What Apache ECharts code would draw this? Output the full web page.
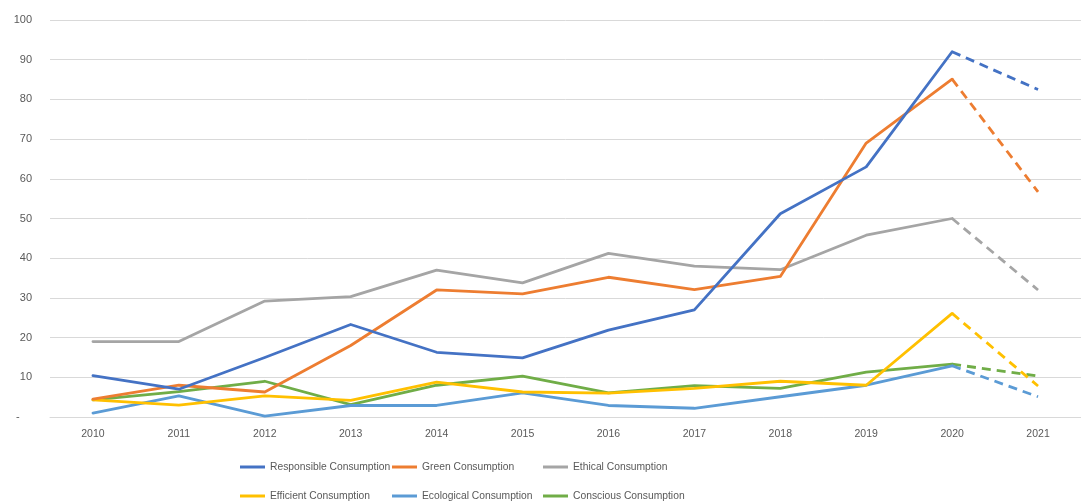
<!DOCTYPE html>
<html>
<head>
<meta charset="utf-8">
<script src="https://cdn.jsdelivr.net/npm/echarts@6/dist/echarts.min.js"></script>
<style>
html,body{margin:0;padding:0;background:#fff;}
#chart{width:1081px;height:501px;}
</style>
</head>
<body>
<div id="chart"></div>
<script>
var years = ['2010','2011','2012','2013','2014','2015','2016','2017','2018','2019','2020','2021'];
var yTicks = [0,10,20,30,40,50,60,70,80,90,100];
var responsible = [10.4, 7, 15, 23.3, 16.3, 14.9, 21.9, 27, 51.2, 63, 92, 82.5];
var green       = [4.5, 8, 6.3, 18, 32, 31, 35.2, 32.1, 35.4, 69, 85.1, 56.7];
var ethical     = [19, 19, 29.2, 30.3, 37, 33.8, 41.2, 38, 37.1, 45.8, 50, 32];
var efficient   = [4.3, 3, 5.3, 4.2, 8.8, 6.3, 6, 7.2, 9, 8, 26.1, 7.8];
var ecological  = [1, 5.3, 0.2, 2.9, 2.9, 6.1, 2.9, 2.2, 5.1, 8, 12.9, 5.1];
var conscious   = [4.3, 6.4, 9, 3.1, 8, 10.3, 6.1, 7.9, 7.2, 11.3, 13.3, 10.3];

var seriesNames = ['Responsible Consumption','Green Consumption','Ethical Consumption','Efficient Consumption','Ecological Consumption','Conscious Consumption'];
var seriesData = [responsible, green, ethical, efficient, ecological, conscious];
var colors = ['#4472C4','#ED7D31','#A5A5A5','#FFC000','#5B9BD5','#70AD47'];

var projectionStart = 10; // index of 2020: dashed from here on

var series = [];
seriesData.forEach(function(d, i){
  var solid = d.map(function(v, k){ return k <= projectionStart ? v : null; });
  var dashed = d.map(function(v, k){ return k >= projectionStart ? v : null; });
  series.push({
    name: seriesNames[i], type: 'line', data: solid, symbol: 'none',
    lineStyle: {width: 2.8, color: colors[i], cap: 'round', join: 'round'},
    itemStyle: {color: colors[i]}, z: 10 - i
  });
  series.push({
    name: seriesNames[i] + ' (2021)', type: 'line', data: dashed, symbol: 'none',
    lineStyle: {width: 2.8, color: colors[i], type: [9, 6], cap: 'butt'},
    itemStyle: {color: colors[i]}, z: 10 - i
  });
});

var legendCols = [240, 392, 543];
var legendRows = [462, 491];
var legends = seriesNames.map(function(n, i){
  return {
    data: [n], left: legendCols[i % 3], top: legendRows[Math.floor(i / 3)],
    icon: 'rect', itemWidth: 25, itemHeight: 3, itemGap: 0, padding: 0,
    selectedMode: false,
    textStyle: {color: '#595959', fontSize: 10.3, fontFamily: 'Liberation Sans'}
  };
});

var chart = echarts.init(document.getElementById('chart'));
chart.setOption({
  animation: false,
  backgroundColor: '#ffffff',
  grid: {left: 50, top: 20, width: 1044, height: 397},
  legend: legends,
  xAxis: {
    type: 'category', data: years, boundaryGap: true,
    axisLine: {show: true, lineStyle: {color: '#d9d9d9', width: 1}},
    axisTick: {show: false},
    axisLabel: {color: '#595959', fontSize: 10.5, fontFamily: 'Liberation Sans', margin: 12}
  },
  yAxis: {
    type: 'value', min: yTicks[0], max: yTicks[yTicks.length - 1], interval: 10,
    axisLine: {show: false}, axisTick: {show: false},
    splitLine: {lineStyle: {color: '#d9d9d9', width: 1}},
    axisLabel: {
      color: '#595959', fontSize: 11, fontFamily: 'Liberation Sans', margin: 18,
      formatter: function(v){ return v === 0 ? '-    ' : String(v); }
    }
  },
  series: series
});
</script>
</body>
</html>
